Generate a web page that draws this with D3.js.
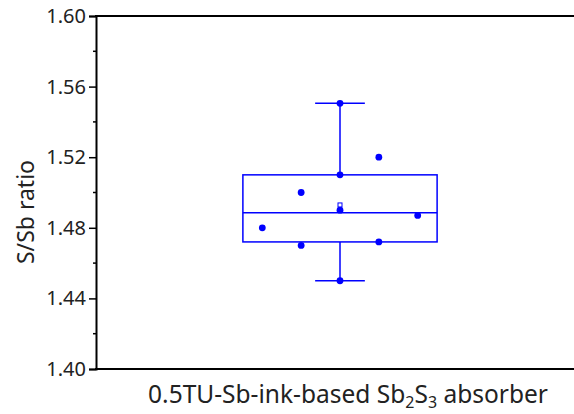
<!DOCTYPE html>
<html>
<head>
<meta charset="utf-8">
<script src="https://cdn.jsdelivr.net/npm/d3@7"></script>
<style>
  html, body { margin: 0; padding: 0; background: #fff; }
  svg { display: block; font-family: "Noto Sans", "Open Sans", sans-serif; }
</style>
</head>
<body>
<svg id="chart" width="574" height="414"></svg>
<script>
// S/Sb ratio measurements for the absorber film
const category = "0.5TU-Sb-ink-based Sb2S3 absorber";
const ratioValues = [1.480, 1.500, 1.470, 1.5505, 1.510, 1.490, 1.450, 1.520, 1.472, 1.487];
// swarm column of each point (-2 … 2) so overlapping values spread sideways
const pointSlots = [-2, -1, -1, 0, 0, 0, 0, 1, 1, 2];
const yTicks = [1.40, 1.44, 1.48, 1.52, 1.56, 1.60];
const yDomain = [1.40, 1.60];

const svg = d3.select("#chart");
const margin = { left: 96, right: -10, top: 16, bottom: 45 };
const W = 574, H = 414;
const blue = "#0000ff";

const x = d3.scaleBand()
  .domain([category])
  .range([margin.left, W - margin.right])
  .paddingInner(0).paddingOuter(0);
const y = d3.scaleLinear().domain(yDomain).range([H - margin.bottom, margin.top]);

// box statistics: median, Tukey hinges, min/max whiskers, mean
const sorted = ratioValues.slice().sort(d3.ascending);
const n = sorted.length;
const half = Math.ceil(n / 2);
const stats = {
  min: d3.min(sorted),
  max: d3.max(sorted),
  median: d3.median(sorted),
  q1: d3.median(sorted.slice(0, half)),
  q3: d3.median(sorted.slice(n - half)),
  mean: d3.mean(sorted)
};

const cx = x(category) + x.bandwidth() / 2;
const boxW = x.bandwidth() * 0.398;
const capW = boxW * 0.128;
const slotStep = boxW * 0.2;

const g = svg.append("g");

// whiskers
g.append("line")
  .attr("x1", cx).attr("x2", cx)
  .attr("y1", y(stats.max)).attr("y2", y(stats.q3))
  .attr("stroke", blue).attr("stroke-width", 1.5);
g.append("line")
  .attr("x1", cx).attr("x2", cx)
  .attr("y1", y(stats.q1)).attr("y2", y(stats.min))
  .attr("stroke", blue).attr("stroke-width", 1.5);
[stats.max, stats.min].forEach(v => {
  g.append("line")
    .attr("x1", cx - capW).attr("x2", cx + capW)
    .attr("y1", y(v)).attr("y2", y(v))
    .attr("stroke", blue).attr("stroke-width", 1.5);
});

// box and median
g.append("rect")
  .attr("x", cx - boxW / 2).attr("width", boxW)
  .attr("y", y(stats.q3)).attr("height", y(stats.q1) - y(stats.q3))
  .attr("fill", "none").attr("stroke", blue).attr("stroke-width", 1.5);
g.append("line")
  .attr("x1", cx - boxW / 2).attr("x2", cx + boxW / 2)
  .attr("y1", y(stats.median)).attr("y2", y(stats.median))
  .attr("stroke", blue).attr("stroke-width", 1.5);

// individual points
g.selectAll("circle.pt")
  .data(ratioValues)
  .join("circle")
  .attr("class", "pt")
  .attr("cx", (d, i) => cx + pointSlots[i] * slotStep)
  .attr("cy", d => y(d))
  .attr("r", 3.4)
  .attr("fill", blue);

// mean marker
g.append("rect")
  .attr("x", cx - 2).attr("y", y(stats.mean) - 2)
  .attr("width", 4).attr("height", 4)
  .attr("fill", "#fff").attr("stroke", blue).attr("stroke-width", 1);

// y axis with minor ticks
const minorTicks = d3.range(0, 10).map(i => 1.42 + i * 0.04).filter(v => v < 1.6);
const yAxis = d3.axisLeft(y).tickValues(yTicks).tickFormat(d3.format(".2f")).tickSize(7).tickPadding(3);
const ya = svg.append("g").attr("transform", `translate(${margin.left},0)`).call(yAxis);
ya.select(".domain").attr("stroke", "#000").attr("stroke-width", 2);
ya.selectAll(".tick line").attr("stroke", "#000").attr("stroke-width", 1.5);
ya.selectAll(".tick text").attr("font-size", 20).attr("fill", "#222")
  .attr("font-family", "'Noto Sans', sans-serif");
ya.selectAll("line.minor")
  .data(minorTicks)
  .join("line")
  .attr("class", "minor")
  .attr("x1", -3).attr("x2", 0)
  .attr("y1", d => y(d)).attr("y2", d => y(d))
  .attr("stroke", "#000").attr("stroke-width", 1.5);

// bottom axis line and top frame line
svg.append("line")
  .attr("x1", margin.left - 1).attr("x2", W)
  .attr("y1", y(yDomain[0])).attr("y2", y(yDomain[0]))
  .attr("stroke", "#000").attr("stroke-width", 2);
svg.append("line")
  .attr("x1", margin.left - 1).attr("x2", W)
  .attr("y1", y(yDomain[1])).attr("y2", y(yDomain[1]))
  .attr("stroke", "#000").attr("stroke-width", 2);

// category label with subscripts
const xl = svg.append("text")
  .attr("x", cx + 8).attr("y", 403)
  .attr("text-anchor", "middle")
  .attr("font-size", 24.5).attr("fill", "#222");
xl.append("tspan").text("0.5TU-Sb-ink-based Sb");
xl.append("tspan").attr("font-size", 16).attr("dy", 5).text("2");
xl.append("tspan").attr("dy", -5).text("S");
xl.append("tspan").attr("font-size", 16).attr("dy", 5).text("3");
xl.append("tspan").attr("dy", -5).text(" absorber");

// y axis title
svg.append("text")
  .attr("transform", "translate(34,212) rotate(-90)")
  .attr("text-anchor", "middle")
  .attr("font-size", 23).attr("fill", "#222")
  .text("S/Sb ratio");
</script>
</body>
</html>
